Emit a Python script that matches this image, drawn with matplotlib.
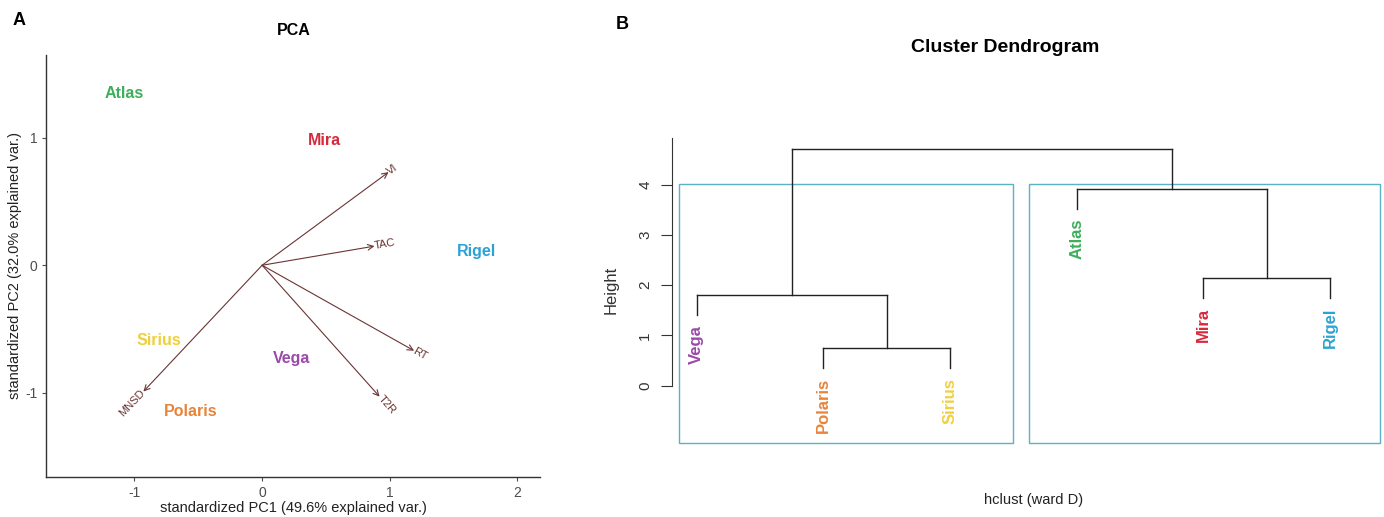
import math
import matplotlib
matplotlib.use("Agg")
import matplotlib.pyplot as plt

plt.rcParams["font.family"] = ["Liberation Sans", "DejaVu Sans"]
plt.rcParams["axes.unicode_minus"] = False

# ---- PCA data ----
samples = ["Atlas", "Mira", "Rigel", "Sirius", "Vega", "Polaris"]
pc1 = [-1.08, 0.49, 1.68, -0.81, 0.23, -0.56]
pc2 = [1.35, 0.98, 0.11, -0.59, -0.73, -1.15]
sample_colors = {"Atlas": "#3fae5c", "Mira": "#d6283c", "Rigel": "#2ca3d4",
                 "Sirius": "#f0d03a", "Vega": "#9a4aa8", "Polaris": "#e8843a"}

variables = ["VI", "TAC", "RT", "T2R", "MNSD"]
load1 = [0.99, 0.88, 1.19, 0.92, -0.93]
load2 = [0.73, 0.15, -0.67, -1.03, -0.99]

# ---- dendrogram data ----
leaves = ["Vega", "Polaris", "Sirius", "Atlas", "Mira", "Rigel"]
merges = [("Polaris", "Sirius", 0.75),
          ("Mira", "Rigel", 2.15),
          ("Vega", "m0", 1.81),
          ("Atlas", "m1", 3.92),
          ("m2", "m3", 4.72)]
# cluster boxes (rect.hclust, k = 2), left/right edges in leaf units
box_edges = [(0.86, 3.50), (3.62, 6.39)]
height_ticks = [0, 1, 2, 3, 4]

fig = plt.figure(figsize=(13.84, 5.17), dpi=100)

# ================= Panel A: PCA biplot =================
ax = fig.add_axes([0.0335, 0.0774, 0.357, 0.8166])
arrow_col = "#6a3434"
for name, x, y in zip(variables, load1, load2):
    ax.annotate("", xy=(x, y), xytext=(0, 0),
                arrowprops=dict(arrowstyle="->", color=arrow_col, lw=0.8,
                                shrinkA=0, shrinkB=0, mutation_scale=10))
    ang = math.degrees(math.atan(y / x))
    ha = "left" if x > 0 else "right"
    ax.text(x, y, name, rotation=ang, rotation_mode="anchor", ha=ha, va="center",
            fontsize=8, color=arrow_col)

for name, x, y in zip(samples, pc1, pc2):
    ax.text(x, y, name, ha="center", va="center", fontsize=11.5, fontweight="bold",
            color=sample_colors[name])

ax.set_xlim(-1.69, 2.18)
ax.set_ylim(-1.66, 1.65)
ax.set_xticks([-1, 0, 1, 2])
ax.set_yticks([-1, 0, 1])
ax.spines["top"].set_visible(False)
ax.spines["right"].set_visible(False)
for s in ["left", "bottom"]:
    ax.spines[s].set_color("#333333")
    ax.spines[s].set_linewidth(1.0)
ax.tick_params(colors="#4d4d4d", labelsize=10, length=3)
ax.set_xlabel("standardized PC1 (49.6% explained var.)", fontsize=10.5, labelpad=1,
              color="#222222")
ax.set_ylabel("standardized PC2 (32.0% explained var.)", fontsize=10.5, labelpad=2,
              color="#222222")
ax.set_title("PCA", fontsize=11.5, fontweight="bold", pad=14)

fig.text(0.009, 0.96, "A", fontsize=13, fontweight="bold", va="center")

# ================= Panel B: dendrogram =================
bx = fig.add_axes([0.4853, 0.1431, 0.5124, 0.5909])
hang = 0.4
pos = {name: i + 1 for i, name in enumerate(leaves)}
hgt = {name: None for name in leaves}
for i, (a, b, h) in enumerate(merges):
    for c in (a, b):
        low = hgt[c] if hgt[c] is not None else h - hang
        bx.plot([pos[c], pos[c]], [low, h], color="#222222", lw=1.0)
    bx.plot([pos[a], pos[b]], [h, h], color="#222222", lw=1.0)
    pos["m%d" % i] = (pos[a] + pos[b]) / 2
    hgt["m%d" % i] = h

for a, b, h in merges:
    for c in (a, b):
        if c in leaves:
            bx.text(pos[c], h - hang - 0.2, c, rotation=90, ha="center", va="top",
                    fontsize=12, fontweight="bold", color=sample_colors[c])

box_col = "#5bb2c4"
box_top = 4.02
box_bottom = -1.14
for left, right in box_edges:
    bx.add_patch(plt.Rectangle((left, box_bottom), right - left, box_top - box_bottom,
                               fill=False, edgecolor=box_col, lw=1.0, clip_on=False))

bx.set_xlim(0.803, 6.4)
bx.set_ylim(-1.14, 4.94)
for s in ["top", "right", "bottom"]:
    bx.spines[s].set_visible(False)
bx.spines["left"].set_bounds(0, 4.94)
bx.spines["left"].set_color("#333333")
bx.set_xticks([])
bx.set_yticks(height_ticks)
bx.set_yticklabels([str(t) for t in height_ticks], rotation=90, va="center")
bx.tick_params(axis="y", colors="#333333", labelsize=11, length=8, pad=6)
bx.set_ylabel("Height", fontsize=12, color="#333333", labelpad=14)

narrow = ["Liberation Sans Narrow", "Liberation Sans", "DejaVu Sans"]
fig.text(0.726, 0.909, "Cluster Dendrogram", ha="center", va="center",
         fontsize=14, fontweight="bold", family=narrow)
fig.text(0.7466, 0.033, "hclust (ward D)", ha="center", va="center",
         fontsize=10.5, family=narrow, color="#222222")
fig.text(0.445, 0.952, "B", fontsize=13, fontweight="bold", va="center")

fig.savefig("out.png", dpi=100)
